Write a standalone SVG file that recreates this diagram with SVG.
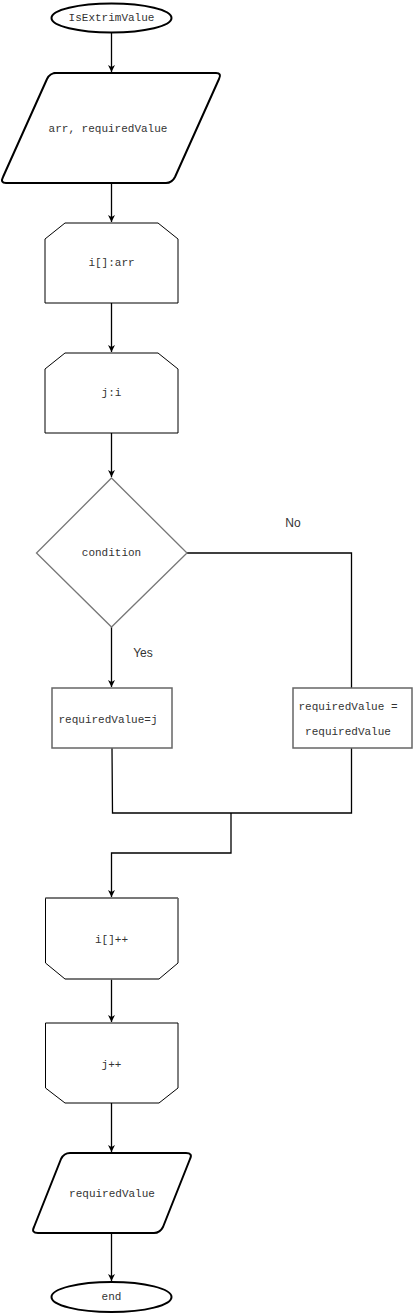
<svg xmlns="http://www.w3.org/2000/svg" width="413" height="1314" viewBox="0 0 413 1314">
<style>
.bg{fill:#fff}
.term{fill:#fff;stroke:#000;stroke-width:2}
.io{fill:#fff;stroke:#000;stroke-width:2;stroke-linejoin:round}
.loop{fill:#fff;stroke:#000;stroke-width:1}
.proc{fill:#fff;stroke:#666;stroke-width:1.5}
.dec{fill:#fff;stroke:#777;stroke-width:1.3}
.t{font-family:"Liberation Mono","DejaVu Sans Mono",monospace;font-size:11px;fill:#333;text-anchor:middle;dominant-baseline:central}
.lbl{font-family:"Liberation Sans",Arial,sans-serif;font-size:12px;fill:#333;text-anchor:middle;dominant-baseline:central}
.c{fill:none;stroke:#000;stroke-width:1.3}
</style>
<defs>
<marker id="ah" markerWidth="8" markerHeight="8" refX="7" refY="4" orient="auto" markerUnits="userSpaceOnUse">
<path d="M0,0.5 L7,4 L0,7.5 L2,4 Z" fill="#000"/>
</marker>
</defs>
<rect class="bg" x="0" y="0" width="413" height="1314"/>
<g id="connectors">
<path class="c" d="M111.5,32 V72" marker-end="url(#ah)"/>
<path class="c" d="M111.5,183 V222" marker-end="url(#ah)"/>
<path class="c" d="M111.5,303 V352" marker-end="url(#ah)"/>
<path class="c" d="M111.5,433 V477" marker-end="url(#ah)"/>
<path class="c" d="M111.5,627 V687" marker-end="url(#ah)"/>
<path class="c" d="M187,553 H351.5 V688"/>
<path class="c" d="M112,748 L112.5,813 H351.5 V748"/>
<path class="c" d="M231,813 V853 H111.5 V897" marker-end="url(#ah)"/>
<path class="c" d="M111.5,979 V1022" marker-end="url(#ah)"/>
<path class="c" d="M111.5,1103 V1152" marker-end="url(#ah)"/>
<path class="c" d="M111.5,1233 V1281" marker-end="url(#ah)"/>
</g>
<g id="start">
<ellipse class="term" cx="111.5" cy="18" rx="60" ry="14.5"/>
<text class="t" x="111.5" y="18">IsExtrimValue</text>
</g>
<g id="input">
<path class="io" d="M54,73 H216 Q222,73 219,79 L175,177 Q172,183 166,183 H6 Q0,183 3,177 L47,79 Q50,73 56,73 Z"/>
<text class="t" x="108" y="129">arr, requiredValue</text>
</g>
<g id="loop1">
<path class="loop" d="M65,223 H158 L178,239 V303 H45 V239 Z"/>
<text class="t" x="111.5" y="263">i[]:arr</text>
</g>
<g id="loop2">
<path class="loop" d="M65,353 H158 L178,369 V433 H45 V369 Z"/>
<text class="t" x="111.5" y="393">j:i</text>
</g>
<g id="decision">
<path class="dec" d="M111.5,478 L187,553 L111.5,627 L36.5,553 Z"/>
<text class="t" x="111.5" y="553">condition</text>
</g>
<g id="yes-label"><text class="lbl" x="143" y="653">Yes</text></g>
<g id="no-label"><text class="lbl" x="293" y="523">No</text></g>
<g id="assign-yes">
<rect class="proc" x="52" y="688" width="120" height="60"/>
<text class="t" x="108" y="720">requiredValue=j</text>
</g>
<g id="assign-no">
<rect class="proc" x="293" y="688" width="119" height="60"/>
<text class="t" x="348" y="707">requiredValue =</text>
<text class="t" x="348" y="732">requiredValue</text>
</g>
<g id="loopend1">
<path class="loop" d="M45.5,898 H178 V963 L159,979 H65 L45.5,963 Z"/>
<path d="M45.5,898 H178 M65,979 H159" stroke="#777" stroke-width="1.5" fill="none"/>
<text class="t" x="111.5" y="940">i[]++</text>
</g>
<g id="loopend2">
<path class="loop" d="M45.5,1023 H178 V1088 L159,1103 H65 L45.5,1088 Z"/>
<text class="t" x="111.5" y="1065">j++</text>
</g>
<g id="output">
<path class="io" d="M70,1153 H186 Q193,1153 190,1159 L163,1227 Q160,1233 154,1233 H38 Q31,1233 34,1227 L61,1159 Q64,1153 70,1153 Z"/>
<text class="t" x="112" y="1194">requiredValue</text>
</g>
<g id="end">
<ellipse class="term" cx="111.5" cy="1297" rx="60" ry="15"/>
<text class="t" x="111.5" y="1297">end</text>
</g>
</svg>
